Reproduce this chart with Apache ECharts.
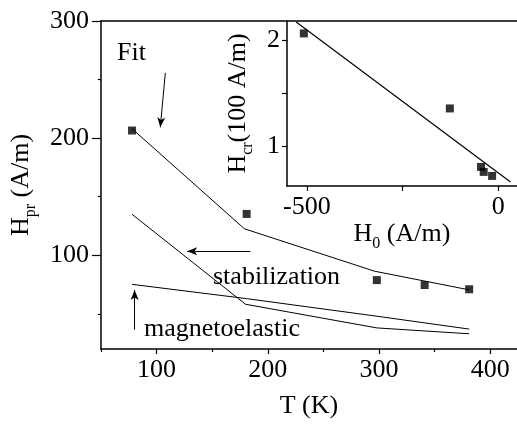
<!DOCTYPE html>
<html lang="en">
<head>
<meta charset="UTF-8">
<title>Hpr vs T</title>
<script src="https://cdn.jsdelivr.net/npm/echarts@6/dist/echarts.min.js"></script>
<style>html,body{margin:0;padding:0;background:#fff;}</style>
</head>
<body>
<div id="main" style="width:517px;height:424px;"></div>
<script>
// main plot, measured points and model curves
var measT = [78, 181, 298, 341, 381];
var measH = [206.5, 135.3, 78.8, 74.6, 71];
var fitT = [78, 179, 296, 381];
var fitH = [208, 122.6, 86.4, 70.5];
var stabT = [78, 180, 298, 381];
var stabH = [135, 58.2, 38, 33];
var magT = [78, 181, 298, 381];
var magH = [75.2, 63, 48, 37];
var xTicks = [100, 200, 300, 400];
var xMinor = [50, 150, 250, 350];
var yTicks = [100, 200, 300];
var yMinor = [50, 150, 250];

// inset: H_cr vs H_0
var insH0 = [-508, -126.5, -45, -38, -16];
var insHcr = [2.063, 1.356, 0.805, 0.758, 0.72];
var insFitH0 = [-528, 32];
var insFitHcr = [2.17, 0.663];
var insXLabels = [-500, 0];
var insXTicks = [-500, -250, 0];
var insYLabels = [1, 2];
var insYTicks = [1, 1.5, 2];

function zip(a, b) {
    var out = [];
    for (var i = 0; i < a.length; i++) out.push([a[i], b[i]]);
    return out;
}

var FONT = 'Liberation Serif';
var lineAx = {onZero: false, lineStyle: {color: '#000', width: 1.5}};
var lbl = {color: '#000', fontFamily: FONT, fontSize: 26};
var richName = {
    n: {fontFamily: FONT, fontSize: 26, color: '#000', lineHeight: 30, verticalAlign: 'top'},
    s: {fontFamily: FONT, fontSize: 16, color: '#000', lineHeight: 16, verticalAlign: 'top', padding: [15, 0, 0, 0]}
};

var chart = echarts.init(document.getElementById('main'));
var option = {
    backgroundColor: '#fff',
    animation: false,
    grid: [
        {left: 97, top: 21, right: 0, bottom: 72},
        {left: 287, top: 21, right: 0, height: 165, show: true, backgroundColor: '#fff', borderWidth: 0}
    ],
    xAxis: [
        {gridIndex: 0, type: 'value', min: 50, max: 424, position: 'bottom',
            splitLine: {show: false}, axisLine: lineAx,
            axisTick: {length: 5, lineStyle: {color: '#000', width: 1.2}, customValues: xTicks},
            axisLabel: Object.assign({margin: 8, customValues: xTicks}, lbl),
            name: 'T (K)', nameLocation: 'middle', nameGap: 44,
            nameTextStyle: {fontFamily: FONT, fontSize: 26, color: '#000'}},
        {gridIndex: 0, type: 'value', min: 50, max: 424, position: 'bottom',
            splitLine: {show: false}, axisLine: {show: false, onZero: false},
            axisTick: {length: 3, lineStyle: {color: '#000', width: 1.2}, customValues: xMinor},
            axisLabel: {show: false}},
        {gridIndex: 0, type: 'value', min: 50, max: 424, position: 'top',
            splitLine: {show: false}, axisLine: lineAx,
            axisTick: {show: false}, axisLabel: {show: false}},
        {gridIndex: 1, type: 'value', min: -552, max: 49, position: 'bottom',
            splitLine: {show: false}, axisLine: lineAx,
            axisTick: {length: 5, lineStyle: {color: '#000', width: 1.2}, customValues: insXTicks},
            axisLabel: Object.assign({margin: 8, customValues: insXLabels}, lbl),
            name: '{n|H}{s|0}{n| (A/m)}', nameLocation: 'middle', nameGap: 10,
            nameTextStyle: {rich: richName}}
    ],
    yAxis: [
        {gridIndex: 0, type: 'value', min: 20, max: 300, position: 'left',
            splitLine: {show: false}, axisLine: lineAx,
            axisTick: {length: 9, lineStyle: {color: '#000', width: 1.2}, customValues: yTicks},
            axisLabel: Object.assign({margin: 12, customValues: yTicks}, lbl),
            name: '{n|H}{s|pr}{n| (A/m)}', nameLocation: 'middle', nameGap: 62,
            nameTextStyle: {rich: richName}},
        {gridIndex: 0, type: 'value', min: 20, max: 300, position: 'left',
            splitLine: {show: false}, axisLine: {show: false, onZero: false},
            axisTick: {length: 3, lineStyle: {color: '#000', width: 1.2}, customValues: yMinor},
            axisLabel: {show: false}},
        {gridIndex: 1, type: 'value', min: 0.625, max: 2.18, position: 'left',
            splitLine: {show: false}, axisLine: lineAx,
            axisTick: {length: 5, lineStyle: {color: '#000', width: 1.2}, customValues: insYTicks},
            axisLabel: Object.assign({margin: 7, customValues: insYLabels}, lbl),
            name: '{n|H}{s|cr}{n|(100 A/m)}', nameLocation: 'middle', nameGap: 32,
            nameTextStyle: {rich: richName}}
    ],
    series: [
        {type: 'line', xAxisIndex: 0, yAxisIndex: 0, data: zip(fitT, fitH), symbol: 'none',
            lineStyle: {color: '#000', width: 1},
            markLine: {
                silent: true, symbol: ['none', 'arrow'], symbolSize: [6, 10],
                label: {show: false}, lineStyle: {color: '#000', width: 1, type: 'solid'},
                data: [
                    [{coord: [107.9, 255.7]}, {coord: [103.4, 209.2]}],
                    [{coord: [184.4, 103.4]}, {coord: [127.5, 103.4]}],
                    [{coord: [80.3, 36.5]}, {coord: [80.3, 70.4]}]
                ]
            }},
        {type: 'line', xAxisIndex: 0, yAxisIndex: 0, data: zip(stabT, stabH), symbol: 'none',
            lineStyle: {color: '#000', width: 1}},
        {type: 'line', xAxisIndex: 0, yAxisIndex: 0, data: zip(magT, magH), symbol: 'none',
            lineStyle: {color: '#000', width: 1}},
        {type: 'scatter', xAxisIndex: 0, yAxisIndex: 0, data: zip(measT, measH),
            symbol: 'rect', symbolSize: 8, itemStyle: {color: '#000'}},
        {type: 'line', xAxisIndex: 3, yAxisIndex: 2, data: zip(insFitH0, insFitHcr), symbol: 'none',
            lineStyle: {color: '#000', width: 1.2}},
        {type: 'scatter', xAxisIndex: 3, yAxisIndex: 2, data: zip(insH0, insHcr),
            symbol: 'rect', symbolSize: 8, itemStyle: {color: '#000'}}
    ],
    graphic: [
        {type: 'text', left: 117, top: 40, style: {text: 'Fit', font: '26px "Liberation Serif"', fill: '#000'}},
        {type: 'text', left: 213, top: 264, style: {text: 'stabilization', font: '26px "Liberation Serif"', fill: '#000'}},
        {type: 'text', left: 144, top: 316, style: {text: 'magnetoelastic', font: '26px "Liberation Serif"', fill: '#000'}}
    ]
};
chart.setOption(option);
</script>
</body>
</html>
